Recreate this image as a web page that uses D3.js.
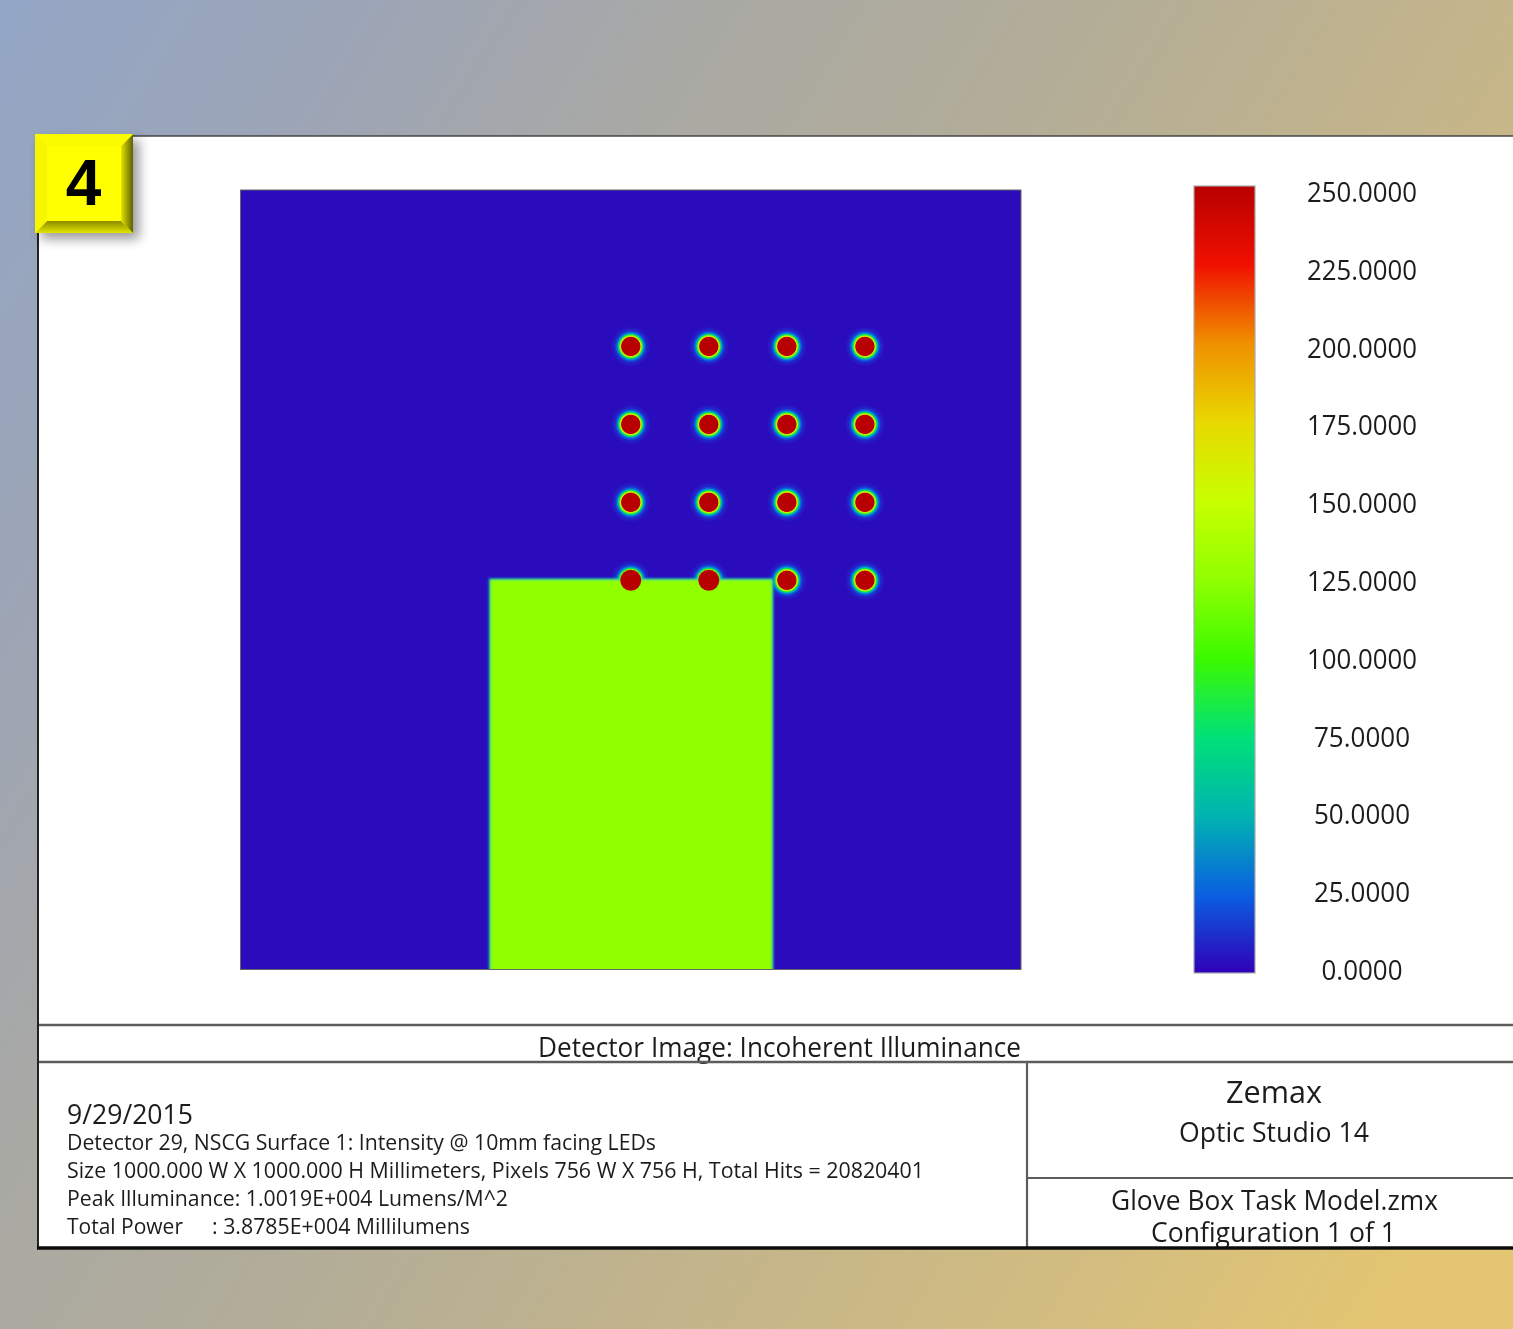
<!DOCTYPE html>
<html><head><meta charset="utf-8">
<script src="https://cdn.jsdelivr.net/npm/d3@7"></script>
<style>
html,body{margin:0;padding:0;width:1513px;height:1329px;overflow:hidden;background:#aaa}
svg{display:block}
text{font-family:"Open Sans","Noto Sans",sans-serif;fill:#1c1c1c}
</style></head><body>
<svg id="c" width="1513" height="1329" viewBox="0 0 1513 1329"></svg>
<script>
// ---- data ----
const legendTicks = [0,25,50,75,100,125,150,175,200,225,250];
const colorValues = [0,25,50,75,100,125,150,175,200,225,250];
const colorHexes  = ["#3000b8","#0a60e0","#00b4b0","#00e078","#3cfa00","#90ff00","#c8ff00","#e8d800","#f09000","#f01000","#b80000"];
const ledX = [0,100,200,300];
const ledY = [300,200,100,0];
const ledPeak = 250;
const background = 3;
const ledRadialR = [0,0.46,0.5,0.54,0.58,0.63,0.7,0.8,1];           // fraction of halo radius
const ledRadialV = [250,250,170,125,85,50,25,10,3];                 // illuminance along radius
const glove = {x0:-180,x1:181,y0:-500,y1:0,value:126,edge1:85,edge2:35};
const titleText = "Detector Image: Incoherent Illuminance";
const dateText = "9/29/2015";
const infoLines = ["Detector 29, NSCG Surface 1: Intensity @ 10mm facing LEDs",
 "Size 1000.000 W X 1000.000 H Millimeters, Pixels 756 W X 756 H, Total Hits = 20820401",
 "Peak Illuminance: 1.0019E+004 Lumens/M^2"];
const powerLabel = "Total Power", powerValue = ": 3.8785E+004 Millilumens";
const brand = "Zemax", product = "Optic Studio 14", fileName = "Glove Box Task Model.zmx", configText = "Configuration 1 of 1";
const badge = "4";

// ---- layout ----
const svg = d3.select("#c"), defs = svg.append("defs");
const color = d3.scaleLinear().domain(colorValues).range(colorHexes).interpolate(d3.interpolateRgb);
const x = d3.scaleLinear().domain([-500,500]).range([240.5,1021]);
const y = d3.scaleLinear().domain([-500,500]).range([969.5,190]);
const legendBar = d3.scaleLinear().domain([0,250]).range([973,186]);
const legendLabel = d3.scaleLinear().domain([0,250]).range([970,192]);

// page background
const bg = defs.append("linearGradient").attr("id","bg").attr("gradientUnits","userSpaceOnUse")
  .attr("x1",0).attr("y1",0).attr("x2",1690*0.94).attr("y2",1037*0.94);
[[0,"#93a6c6"],[.18,"#9da5b5"],[.33,"#a9a9a4"],[.5,"#b3ad98"],[.65,"#c0b38d"],[.85,"#d2bc80"],[1,"#e4c672"]]
  .forEach(s=>bg.append("stop").attr("offset",s[0]).attr("stop-color",s[1]));
svg.append("rect").attr("width",1513).attr("height",1329).attr("fill","url(#bg)");

// white panel
svg.append("rect").attr("x",38).attr("y",136).attr("width",1475).attr("height",1112).attr("fill","#fff");

// filters
const soft = defs.append("filter").attr("id","soft").attr("x","-5%").attr("y","-5%").attr("width","110%").attr("height","110%");
soft.append("feGaussianBlur").attr("stdDeviation",1.1);
defs.append("filter").attr("id","tb").append("feGaussianBlur").attr("stdDeviation",0.4);
const sh = defs.append("filter").attr("id","shadow").attr("x","-20%").attr("y","-20%").attr("width","150%").attr("height","150%");
sh.append("feGaussianBlur").attr("stdDeviation",6);

// detector plot
defs.append("clipPath").attr("id","plotClip").append("rect")
  .attr("x",x(-500)).attr("y",y(500)).attr("width",x(500)-x(-500)).attr("height",y(-500)-y(500));
const plot = svg.append("g").attr("clip-path","url(#plotClip)");
plot.append("rect").attr("x",x(-500)).attr("y",y(500)).attr("width",x(500)-x(-500)).attr("height",y(-500)-y(500))
  .attr("fill",color(background));

const grad = defs.append("radialGradient").attr("id","led");
ledRadialR.forEach((r,i)=>{
  grad.append("stop").attr("offset",r).attr("stop-color",color(ledRadialV[i]));
});
const leds = ledY.flatMap(b=>ledX.map(a=>({a,b})));
plot.selectAll("circle.led").data(leds).join("circle").attr("class","led")
  .attr("cx",d=>x(d.a)).attr("cy",d=>y(d.b)+0.5).attr("r",20).attr("fill","url(#led)");

// lit rectangle: soft edge stepping down through the colour scale
const gl = plot.append("g").attr("filter","url(#soft)");
[[1.6,glove.edge2],[0.8,glove.edge1],[-0.4,glove.value]].forEach(([o,v])=>{
  gl.append("rect").attr("x",x(glove.x0)-o).attr("y",y(glove.y1)-o)
    .attr("width",x(glove.x1)-x(glove.x0)+2*o).attr("height",y(glove.y0)-y(glove.y1)+12)
    .attr("fill",color(v));
});
// LEDs on the lit rectangle read slightly larger, with no halo below
plot.selectAll("circle.core").data(leds.filter(d=>d.b===0&&d.a<=100)).join("circle").attr("class","core")
  .attr("cx",d=>x(d.a)).attr("cy",d=>y(d.b)+0.5).attr("r",10.5).attr("fill",color(ledPeak));
plot.selectAll("circle.ring").data(leds.filter(d=>d.b===0&&d.a===200)).join("circle").attr("class","ring")
  .attr("cx",d=>x(d.a)).attr("cy",d=>y(d.b)+0.5).attr("r",9.2).attr("fill",color(ledPeak));
svg.append("rect").attr("x",x(-500)).attr("y",y(500)).attr("width",x(500)-x(-500)).attr("height",y(-500)-y(500))
  .attr("fill","none").attr("stroke","#666").attr("stroke-width",1);

// colour legend
const lg = defs.append("linearGradient").attr("id","legend").attr("x1",0).attr("y1",1).attr("x2",0).attr("y2",0);
colorValues.forEach((v,i)=>lg.append("stop").attr("offset",v/250).attr("stop-color",colorHexes[i]));
svg.append("rect").attr("x",1194).attr("y",legendBar(250)).attr("width",61).attr("height",legendBar(0)-legendBar(250))
  .attr("fill","url(#legend)").attr("stroke","#aaa").attr("stroke-width",1.2);

const txt = svg.append("g").attr("filter","url(#tb)");
function put(s,xl,xr,base,size){
  txt.append("text").attr("x",xl).attr("y",base).attr("font-size",size)
    .attr("textLength",xr-xl).attr("lengthAdjust","spacingAndGlyphs").text(s);
}
legendTicks.forEach(v=>{
  const s = d3.format(".4f")(v);
  const w = s.length===8?110:s.length===7?96:81;
  put(s,1362-w/2,1362+w/2,legendLabel(v)+10,27);
});

// frame lines
const lines = [[38,1025,1513,1025,2.4],[38,1062,1513,1062,2.4],[1027,1062,1027,1248,2.2],[1027,1178,1513,1178,2.2]];
svg.selectAll("line.f").data(lines).join("line").attr("class","f")
  .attr("x1",d=>d[0]).attr("y1",d=>d[1]).attr("x2",d=>d[2]).attr("y2",d=>d[3])
  .attr("stroke","#5c5c5c").attr("stroke-width",d=>d[4]);

// texts
put(titleText,538,1021,1057,27);
put(dateText,67,193,1124,27);
put(infoLines[0],67,656,1150,22);
put(infoLines[1],67,924,1178,22);
put(infoLines[2],67,508,1206,22);
put(powerLabel,67,183,1234,22);
put(powerValue,212,470,1234,22);
put(brand,1226,1322,1103,31);
put(product,1179,1369,1142,27);
put(fileName,1111,1438,1210,27);
put(configText,1151,1396,1242,27);

// outer frame
svg.append("line").attr("x1",38).attr("y1",136).attr("x2",1513).attr("y2",136).attr("stroke","#444").attr("stroke-width",1.5);
svg.append("line").attr("x1",38).attr("y1",136).attr("x2",38).attr("y2",1248).attr("stroke","#222").attr("stroke-width",2);
svg.append("line").attr("x1",37).attr("y1",1248).attr("x2",1513).attr("y2",1248).attr("stroke","#0c0c0c").attr("stroke-width",3.6);

// badge
const bx0=35,bx1=133,by0=134,by1=233,b=12;
svg.append("rect").attr("x",bx0+6).attr("y",by0+6).attr("width",bx1-bx0).attr("height",by1-by0)
  .attr("fill","#000").attr("opacity",.4).attr("filter","url(#shadow)");
svg.append("rect").attr("x",bx0).attr("y",by0).attr("width",bx1-bx0).attr("height",by1-by0).attr("fill","#ffff00");
const bev = d3.line();
const gT = defs.append("linearGradient").attr("id","gB").attr("x1",0).attr("y1",0).attr("x2",0).attr("y2",1);
gT.append("stop").attr("offset",0).attr("stop-color","#8a8a00");gT.append("stop").attr("offset",1).attr("stop-color","#e4e400");
const gR = defs.append("linearGradient").attr("id","gR").attr("x1",0).attr("y1",0).attr("x2",1).attr("y2",0);
gR.append("stop").attr("offset",0).attr("stop-color","#e4e400");gR.append("stop").attr("offset",1).attr("stop-color","#5e5e08");
svg.append("path").attr("d",bev([[bx0,by1],[bx0+b,by1-b],[bx1-b,by1-b],[bx1,by1]])+"Z").attr("fill","url(#gB)");
svg.append("path").attr("d",bev([[bx1,by0],[bx1-b,by0+b],[bx1-b,by1-b],[bx1,by1]])+"Z").attr("fill","url(#gR)");
svg.append("path").attr("d",bev([[bx0,by0],[bx1,by0],[bx1-b,by0+b],[bx0+b,by0+b]])+"Z").attr("fill","#fbfb00");
svg.append("path").attr("d",bev([[bx0,by0],[bx0+b,by0+b],[bx0+b,by1-b],[bx0,by1]])+"Z").attr("fill","#f6f600");
svg.append("text").attr("x",83.5).attr("y",204.5).attr("text-anchor","middle")
  .style("font-family","'Liberation Sans',Arial,sans-serif").style("font-weight",700).style("fill","#000")
  .attr("font-size",64).text(badge);
</script></body></html>
